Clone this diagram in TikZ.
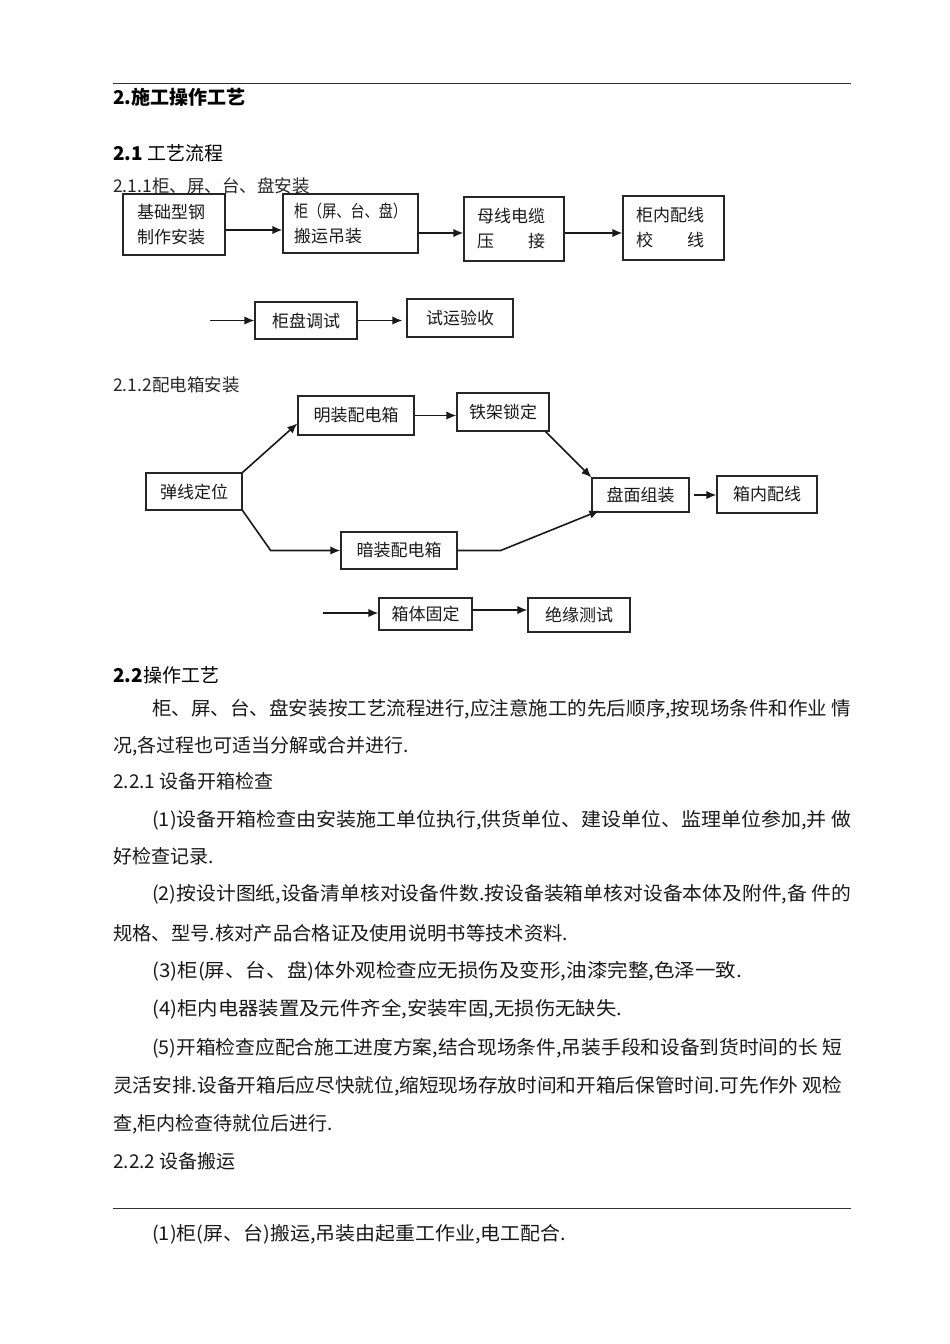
\documentclass[tikz,border=0pt]{standalone}
\usepackage{fontspec}
\setmainfont{Noto Sans CJK SC}
\usepackage{graphicx}
\usetikzlibrary{arrows.meta}
\newcommand{\fitline}[2]{\resizebox{#1}{\height}{#2}}

\begin{document}
\begin{tikzpicture}[x=1pt, y=-1pt,
  box/.style={draw=black!85, line width=1.3pt, inner sep=0pt, text=black!90,
              font=\fontsize{17}{25}\selectfont},
  flow/.style={-{Latex[length=10pt,width=8.5pt]}, line width=1.6pt, black!90},
  head/.style={anchor=base west, inner sep=0pt, font=\fontsize{19}{22}\selectfont},
  sub/.style={anchor=base west, inner sep=0pt, font=\fontsize{17.5}{20}\selectfont, text=black!85},
  body/.style={anchor=base west, inner sep=0pt, font=\fontsize{19}{22}\selectfont, text=black!90},
  rule/.style={line width=0.8pt, black!80}]
  \useasboundingbox (0,0) rectangle (950,1344);

  % Rules
  \draw[rule] (113,83) -- (851,83);
  \draw[rule] (113,1208) -- (851,1208);

  % Headings
  \node[head, font=\bfseries\fontsize{19}{22}\selectfont] (h2) at (113,104) {2.施工操作工艺};
  \node[head] (h21) at (113,160) {\textbf{2.1} 工艺流程};
  \node[sub] (h211) at (113,192.5) {2.1.1柜、屏、台、盘安装};

  % Cabinet flow, first row
  \node[box, minimum width=102pt, minimum height=61pt, text width=74pt, align=left]
        (jcxg) at (174,224.5) {基础型钢\\制作安装};
  \node[box, minimum width=135pt, minimum height=59pt, text width=113pt, align=left]
        (gpyd) at (350.5,223.5) {\fitline{113pt}{柜（屏、台、盘）}\\搬运吊装};
  \node[box, minimum width=100pt, minimum height=64pt, text width=74pt, align=left]
        (mxdl) at (514,229) {母线电缆\\压　　接};
  \node[box, minimum width=101pt, minimum height=64pt, text width=75pt, align=left]
        (gnpx) at (673.5,228) {柜内配线\\校　　线};

  \draw[flow] ([yshift=-5.5pt]jcxg.east) -- ([yshift=-5.5pt]jcxg.east -| gpyd.west);
  \draw[flow] ([yshift=-9.5pt]gpyd.east) -- ([yshift=-9.5pt]gpyd.east -| mxdl.west);
  \draw[flow] ([yshift=-4pt]mxdl.east) -- ([yshift=-4pt]mxdl.east -| gnpx.west);

  % Cabinet flow, second row
  \coordinate (in1) at (210,320.5);
  \node[box, minimum width=102pt, minimum height=37pt] (gptx) at (306,320.5) {柜盘调试};
  \node[box, minimum width=106pt, minimum height=38pt] (sxys) at (460,318) {试运验收};
  \draw[flow] (in1) -- (gptx.west);
  \draw[flow, shorten >=4pt] (gptx.east) -- (gptx.east -| sxys.west);

  % Distribution box flow
  \node[sub] (h212) at (113,391.5) {2.1.2配电箱安装};
  \node[box, minimum width=96pt, minimum height=37pt] (txdw) at (194,491.5) {弹线定位};
  \node[box, minimum width=116pt, minimum height=39pt] (mzpdx) at (356,415.5) {明装配电箱};
  \node[box, minimum width=92pt, minimum height=38pt] (tjsd) at (503,412) {铁架锁定};
  \node[box, minimum width=116pt, minimum height=37pt] (azpdx) at (399,550.5) {暗装配电箱};
  \node[box, minimum width=97pt, minimum height=34pt] (pmzz) at (640.5,495) {盘面组装};
  \node[box, minimum width=100pt, minimum height=37pt] (xnpx) at (767,494.5) {箱内配线};

  \draw[flow] (txdw.north east) -- ([yshift=-8pt]mzpdx.west);
  \draw[flow] (mzpdx.east) -- (mzpdx.east -| tjsd.west);
  \draw[flow] ([xshift=-4pt]tjsd.south east) -- (pmzz.north west);
  \draw[flow] (txdw.south east) -- ([xshift=28pt]txdw.south east |- azpdx.west) -- (azpdx.west);
  \draw[flow] (azpdx.east) -- ([xshift=43pt]azpdx.east) -- ([xshift=8pt,yshift=2pt]pmzz.south west);
  \draw[flow, shorten <=4pt] (pmzz.east) -- (pmzz.east -| xnpx.west);

  \coordinate (in2) at (323,613);
  \node[box, minimum width=93pt, minimum height=32pt] (xtgd) at (425.5,614) {箱体固定};
  \node[box, minimum width=102pt, minimum height=34pt] (jycs) at (579,615) {绝缘测试};
  \draw[flow] (in2) -- (in2 -| xtgd.west);
  \draw[flow] ([yshift=4pt]xtgd.east) -- ([yshift=4pt]xtgd.east -| jycs.west);

  % Operation text
  \node[head] (h22) at (113,682) {\textbf{2.2}操作工艺};
  \node[body] (p1a) at (152,715) {\fitline{699pt}{柜、屏、台、盘安装按工艺流程进行,应注意施工的先后顺序,按现场条件和作业 情}};
  \node[body] (p1b) at (113,752) {况,各过程也可适当分解或合并进行.};
  \node[body] (h221) at (113,788) {2.2.1 设备开箱检查};
  \node[body] (c1a) at (152,826) {\fitline{699pt}{(1)设备开箱检查由安装施工单位执行,供货单位、建设单位、监理单位参加,并 做}};
  \node[body] (c1b) at (113,863) {好检查记录.};
  \node[body] (c2a) at (152,900) {\fitline{699pt}{(2)按设计图纸,设备清单核对设备件数.按设备装箱单核对设备本体及附件,备 件的}};
  \node[body] (c2b) at (113,940) {\fitline{455pt}{规格、型号.核对产品合格证及使用说明书等技术资料.}};
  \node[body] (c3) at (152,977) {\fitline{590pt}{(3)柜(屏、台、盘)体外观检查应无损伤及变形,油漆完整,色泽一致.}};
  \node[body] (c4) at (152,1015) {\fitline{470pt}{(4)柜内电器装置及元件齐全,安装牢固,无损伤无缺失.}};
  \node[body] (c5a) at (152,1054) {\fitline{690pt}{(5)开箱检查应配合施工进度方案,结合现场条件,吊装手段和设备到货时间的长 短}};
  \node[body] (c5b) at (113,1092) {\fitline{729pt}{灵活安排.设备开箱后应尽快就位,缩短现场存放时间和开箱后保管时间.可先作外 观检}};
  \node[body] (c5c) at (113,1130) {查,柜内检查待就位后进行.};
  \node[body] (h222) at (113,1168) {2.2.2 设备搬运};
  \node[body] (d1) at (152,1240) {\fitline{414pt}{(1)柜(屏、台)搬运,吊装由起重工作业,电工配合.}};
\end{tikzpicture}
\end{document}
